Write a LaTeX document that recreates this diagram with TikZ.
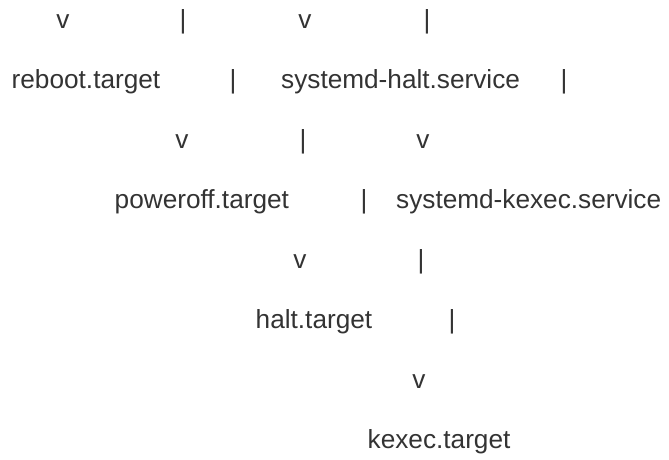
\documentclass[tikz,border=0pt]{standalone}
\usepackage{fontspec}
\setmainfont{Liberation Sans}
\definecolor{InkGray}{RGB}{51, 51, 51}
\usetikzlibrary{positioning}

\begin{document}
\begin{tikzpicture}[x=1pt, y=-1pt]
        \tikzstyle{unit} = [inner sep=0pt, anchor=base west, text=InkGray, font=\fontsize{26.2}{30}\selectfont]
        \tikzstyle{glyph} = [inner sep=0pt, anchor=base, text=InkGray, font=\fontsize{26.2}{30}\selectfont]

        \useasboundingbox (0,0) rectangle (669,459);

        % Row 1
        \node (v1a) [glyph] at (63,28) {v};
        \node (p1a) [glyph] at (183,28) {|};
        \node (v1b) [glyph] at (305,28) {v};
        \node (p1b) [glyph] at (427,28) {|};

        % Row 2
        \node (reboot) [unit] at (11.5,88) {reboot.target};
        \node (p2a) [glyph] at (233,88) {|};
        \node (halt-svc) [unit] at (281,88) {systemd-halt.service};
        \node (p2b) [glyph] at (564,88) {|};

        % Row 3
        \node (v3a) [glyph] at (182,148) {v};
        \node (p3a) [glyph] at (303,148) {|};
        \node (v3b) [glyph] at (423,148) {v};

        % Row 4
        \node (poweroff) [unit] at (114.5,208) {poweroff.target};
        \node (p4a) [glyph] at (364,208) {|};
        \node (kexec-svc) [unit] at (396,208) {systemd-kexec.service};

        % Row 5
        \node (v5a) [glyph] at (300,268) {v};
        \node (p5a) [glyph] at (421,268) {|};

        % Row 6
        \node (halt) [unit] at (255.5,328) {halt.target};
        \node (p6a) [glyph] at (452,328) {|};

        % Row 7
        \node (v7a) [glyph] at (419,388) {v};

        % Row 8
        \node (kexec) [unit] at (367.5,448) {kexec.target};
    \end{tikzpicture}
\end{document}
